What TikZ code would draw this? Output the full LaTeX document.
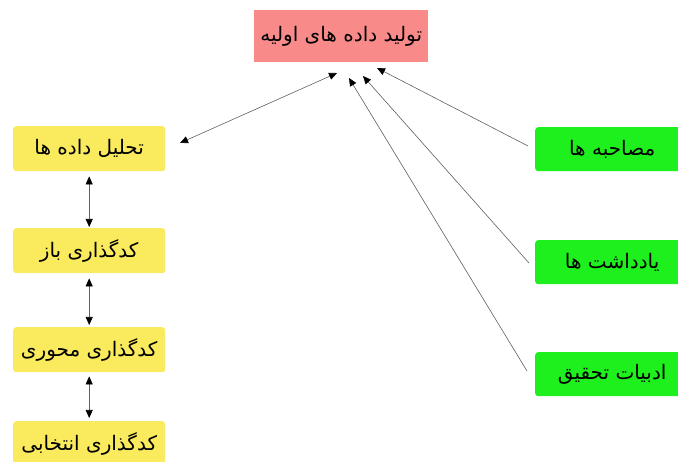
\documentclass[tikz,border=0pt]{standalone}
\usepackage{fontspec}
\newfontfamily\arabicfont[Script=Arabic]{DejaVu Sans}
\TeXXeTstate=1
\usetikzlibrary{arrows.meta}
\definecolor{redbox}{HTML}{F88A8A}
\definecolor{yellowbox}{HTML}{F9EA5E}
\definecolor{greenbox}{HTML}{1EF01E}
\definecolor{linegray}{HTML}{606060}
\tikzset{
  box/.style={anchor=north west, inner sep=0pt, align=center, font=\arabicfont\fontsize{20}{24}\selectfont},
  redstyle/.style={box, fill=redbox, minimum width=174pt, minimum height=52pt},
  yellowstyle/.style={box, fill=yellowbox, rounded corners=3pt, minimum width=152pt, minimum height=45pt},
  greenstyle/.style={box, fill=greenbox, rounded corners=3pt, minimum width=154pt, minimum height=44pt},
  conn/.style={draw=linegray, line width=0.6pt},
  tip/.style={-{Triangle[length=8pt,width=7pt,fill=black,color=black]}},
  tips/.style={{Triangle[length=8pt,width=7pt,fill=black,color=black]}-{Triangle[length=8pt,width=7pt,fill=black,color=black]}}
}
\begin{document}
\begin{tikzpicture}[x=1pt,y=-1pt]
\useasboundingbox (0,0) rectangle (678,462);
\clip (0,0) rectangle (678,462);
\fill[white] (0,0) rectangle (678,462);
\node[redstyle] (top) at (254,10) {\beginR تولید داده های اولیه\endR};
\node[yellowstyle] (y1) at (13,126) {\beginR تحلیل داده ها\endR};
\node[yellowstyle] (y2) at (13,228) {\beginR کدگذاری باز\endR};
\node[yellowstyle] (y3) at (13,327) {\beginR کدگذاری محوری\endR};
\node[yellowstyle] (y4) at (13,421) {\beginR کدگذاری انتخابی\endR};
\node[greenstyle] (g1) at (535,127) {\beginR مصاحبه ها\endR};
\node[greenstyle] (g2) at (535,240) {\beginR یادداشت ها\endR};
\node[greenstyle] (g3) at (535,352) {\beginR ادبیات تحقیق\endR};
\coordinate (a0) at (180,143);
\coordinate (a1) at (337,73);
\coordinate (a2) at (349,78);
\coordinate (a3) at (363,76);
\coordinate (a4) at (377,68);
\coordinate (s1) at (528,146);
\coordinate (s2) at (529,263);
\coordinate (s3) at (527,371);
\draw[conn,tips] (a0) -- (a1);
\draw[conn,tip] (s1) -- (a4);
\draw[conn,tip] (s2) -- (a3);
\draw[conn,tip] (s3) -- (a2);
\draw[conn,tips,shorten <=5pt,shorten >=1pt] (y1.south) -- (y2.north);
\draw[conn,tips,shorten <=5pt,shorten >=2pt] (y2.south) -- (y3.north);
\draw[conn,tips,shorten <=4pt,shorten >=3pt] (y3.south) -- (y4.north);
\end{tikzpicture}
\end{document}
